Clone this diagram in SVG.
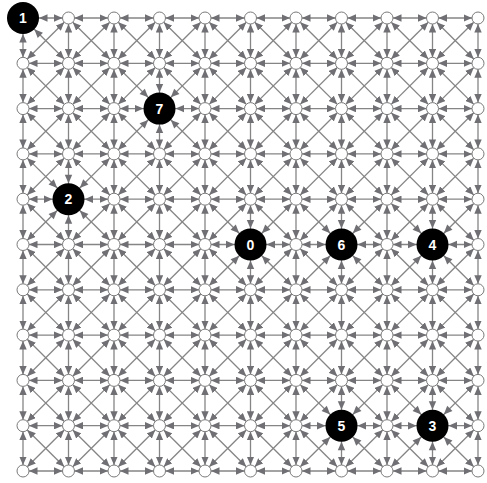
<svg xmlns="http://www.w3.org/2000/svg" width="487" height="483" viewBox="0 0 487 483">
<style>
.n circle{fill:#fff;stroke:#7a7a7a;stroke-width:1}
.b circle{fill:#000;stroke:none}
.b text{fill:#fff;font-family:"Liberation Sans",Arial,sans-serif;font-weight:bold;font-size:14px;text-anchor:middle}
.ah{fill:#6f6f74}
</style>
<defs>
<marker id="m" markerUnits="userSpaceOnUse" markerWidth="8.5" markerHeight="7.4" refX="8.5" refY="3.7" orient="auto-start-reverse" viewBox="0 0 8.5 7.4"><path d="M0,0L8.5,3.7L0,7.4Z" fill="#6f6f74"/></marker>
<g id="c" stroke="#858585" stroke-width="1.3" marker-start="url(#m)" marker-end="url(#m)">
<line x1="6" y1="0" x2="39.5" y2="0"/>
<line x1="0" y1="6" x2="0" y2="39.3"/>
<line x1="4.25" y1="4.23" x2="41.25" y2="41.07"/>
<line x1="41.25" y1="4.23" x2="4.25" y2="41.07"/>
</g>
<g id="h" stroke="#858585" stroke-width="1.3" marker-start="url(#m)" marker-end="url(#m)"><line x1="6" y1="0" x2="39.5" y2="0"/></g>
<g id="v" stroke="#858585" stroke-width="1.3" marker-start="url(#m)" marker-end="url(#m)"><line x1="0" y1="6" x2="0" y2="39.3"/></g>
<g id="r"><use href="#c"/><use href="#c" x="45.5"/><use href="#c" x="91"/><use href="#c" x="136.5"/><use href="#c" x="182"/><use href="#c" x="227.5"/><use href="#c" x="273"/><use href="#c" x="318.5"/><use href="#c" x="364"/><use href="#c" x="409.5"/></g>
<g id="hr"><use href="#h"/><use href="#h" x="45.5"/><use href="#h" x="91"/><use href="#h" x="136.5"/><use href="#h" x="182"/><use href="#h" x="227.5"/><use href="#h" x="273"/><use href="#h" x="318.5"/><use href="#h" x="364"/><use href="#h" x="409.5"/></g>
<g id="vc"><use href="#v"/><use href="#v" y="45.3"/><use href="#v" y="90.6"/><use href="#v" y="135.9"/><use href="#v" y="181.2"/><use href="#v" y="226.5"/><use href="#v" y="271.8"/><use href="#v" y="317.1"/><use href="#v" y="362.4"/><use href="#v" y="407.7"/></g>
<path id="ah" d="M16,0L24.5,-3.7L24.5,3.7Z"/>
<g id="a8"><use href="#ah"/><use href="#ah" transform="rotate(45)"/><use href="#ah" transform="rotate(90)"/><use href="#ah" transform="rotate(135)"/><use href="#ah" transform="rotate(180)"/><use href="#ah" transform="rotate(225)"/><use href="#ah" transform="rotate(270)"/><use href="#ah" transform="rotate(315)"/></g>
</defs>
<g id="connectors">
<use href="#r" x="23" y="18"/>
<use href="#r" x="23" y="63.3"/>
<use href="#r" x="23" y="108.6"/>
<use href="#r" x="23" y="153.9"/>
<use href="#r" x="23" y="199.2"/>
<use href="#r" x="23" y="244.5"/>
<use href="#r" x="23" y="289.8"/>
<use href="#r" x="23" y="335.1"/>
<use href="#r" x="23" y="380.4"/>
<use href="#r" x="23" y="425.7"/>
<use href="#hr" x="23" y="471"/>
<use href="#vc" x="478" y="18"/>
<g class="ah">
<use href="#ah" transform="translate(23,18)"/>
<use href="#ah" transform="translate(23,18) rotate(45)"/>
<use href="#ah" transform="translate(23,18) rotate(90)"/>
<use href="#a8" x="159.5" y="108.6"/>
<use href="#a8" x="68.5" y="199.2"/>
<use href="#a8" x="250.5" y="244.5"/>
<use href="#a8" x="341.5" y="244.5"/>
<use href="#a8" x="432.5" y="244.5"/>
<use href="#a8" x="341.5" y="425.7"/>
<use href="#a8" x="432.5" y="425.7"/>
</g>
</g>
<g id="nodes">
<g id="n0_1" class="n"><circle cx="68.5" cy="18" r="6"/></g>
<g id="n0_2" class="n"><circle cx="114" cy="18" r="6"/></g>
<g id="n0_3" class="n"><circle cx="159.5" cy="18" r="6"/></g>
<g id="n0_4" class="n"><circle cx="205" cy="18" r="6"/></g>
<g id="n0_5" class="n"><circle cx="250.5" cy="18" r="6"/></g>
<g id="n0_6" class="n"><circle cx="296" cy="18" r="6"/></g>
<g id="n0_7" class="n"><circle cx="341.5" cy="18" r="6"/></g>
<g id="n0_8" class="n"><circle cx="387" cy="18" r="6"/></g>
<g id="n0_9" class="n"><circle cx="432.5" cy="18" r="6"/></g>
<g id="n0_10" class="n"><circle cx="478" cy="18" r="6"/></g>
<g id="n1_0" class="n"><circle cx="23" cy="63.3" r="6"/></g>
<g id="n1_1" class="n"><circle cx="68.5" cy="63.3" r="6"/></g>
<g id="n1_2" class="n"><circle cx="114" cy="63.3" r="6"/></g>
<g id="n1_3" class="n"><circle cx="159.5" cy="63.3" r="6"/></g>
<g id="n1_4" class="n"><circle cx="205" cy="63.3" r="6"/></g>
<g id="n1_5" class="n"><circle cx="250.5" cy="63.3" r="6"/></g>
<g id="n1_6" class="n"><circle cx="296" cy="63.3" r="6"/></g>
<g id="n1_7" class="n"><circle cx="341.5" cy="63.3" r="6"/></g>
<g id="n1_8" class="n"><circle cx="387" cy="63.3" r="6"/></g>
<g id="n1_9" class="n"><circle cx="432.5" cy="63.3" r="6"/></g>
<g id="n1_10" class="n"><circle cx="478" cy="63.3" r="6"/></g>
<g id="n2_0" class="n"><circle cx="23" cy="108.6" r="6"/></g>
<g id="n2_1" class="n"><circle cx="68.5" cy="108.6" r="6"/></g>
<g id="n2_2" class="n"><circle cx="114" cy="108.6" r="6"/></g>
<g id="n2_4" class="n"><circle cx="205" cy="108.6" r="6"/></g>
<g id="n2_5" class="n"><circle cx="250.5" cy="108.6" r="6"/></g>
<g id="n2_6" class="n"><circle cx="296" cy="108.6" r="6"/></g>
<g id="n2_7" class="n"><circle cx="341.5" cy="108.6" r="6"/></g>
<g id="n2_8" class="n"><circle cx="387" cy="108.6" r="6"/></g>
<g id="n2_9" class="n"><circle cx="432.5" cy="108.6" r="6"/></g>
<g id="n2_10" class="n"><circle cx="478" cy="108.6" r="6"/></g>
<g id="n3_0" class="n"><circle cx="23" cy="153.9" r="6"/></g>
<g id="n3_1" class="n"><circle cx="68.5" cy="153.9" r="6"/></g>
<g id="n3_2" class="n"><circle cx="114" cy="153.9" r="6"/></g>
<g id="n3_3" class="n"><circle cx="159.5" cy="153.9" r="6"/></g>
<g id="n3_4" class="n"><circle cx="205" cy="153.9" r="6"/></g>
<g id="n3_5" class="n"><circle cx="250.5" cy="153.9" r="6"/></g>
<g id="n3_6" class="n"><circle cx="296" cy="153.9" r="6"/></g>
<g id="n3_7" class="n"><circle cx="341.5" cy="153.9" r="6"/></g>
<g id="n3_8" class="n"><circle cx="387" cy="153.9" r="6"/></g>
<g id="n3_9" class="n"><circle cx="432.5" cy="153.9" r="6"/></g>
<g id="n3_10" class="n"><circle cx="478" cy="153.9" r="6"/></g>
<g id="n4_0" class="n"><circle cx="23" cy="199.2" r="6"/></g>
<g id="n4_2" class="n"><circle cx="114" cy="199.2" r="6"/></g>
<g id="n4_3" class="n"><circle cx="159.5" cy="199.2" r="6"/></g>
<g id="n4_4" class="n"><circle cx="205" cy="199.2" r="6"/></g>
<g id="n4_5" class="n"><circle cx="250.5" cy="199.2" r="6"/></g>
<g id="n4_6" class="n"><circle cx="296" cy="199.2" r="6"/></g>
<g id="n4_7" class="n"><circle cx="341.5" cy="199.2" r="6"/></g>
<g id="n4_8" class="n"><circle cx="387" cy="199.2" r="6"/></g>
<g id="n4_9" class="n"><circle cx="432.5" cy="199.2" r="6"/></g>
<g id="n4_10" class="n"><circle cx="478" cy="199.2" r="6"/></g>
<g id="n5_0" class="n"><circle cx="23" cy="244.5" r="6"/></g>
<g id="n5_1" class="n"><circle cx="68.5" cy="244.5" r="6"/></g>
<g id="n5_2" class="n"><circle cx="114" cy="244.5" r="6"/></g>
<g id="n5_3" class="n"><circle cx="159.5" cy="244.5" r="6"/></g>
<g id="n5_4" class="n"><circle cx="205" cy="244.5" r="6"/></g>
<g id="n5_6" class="n"><circle cx="296" cy="244.5" r="6"/></g>
<g id="n5_8" class="n"><circle cx="387" cy="244.5" r="6"/></g>
<g id="n5_10" class="n"><circle cx="478" cy="244.5" r="6"/></g>
<g id="n6_0" class="n"><circle cx="23" cy="289.8" r="6"/></g>
<g id="n6_1" class="n"><circle cx="68.5" cy="289.8" r="6"/></g>
<g id="n6_2" class="n"><circle cx="114" cy="289.8" r="6"/></g>
<g id="n6_3" class="n"><circle cx="159.5" cy="289.8" r="6"/></g>
<g id="n6_4" class="n"><circle cx="205" cy="289.8" r="6"/></g>
<g id="n6_5" class="n"><circle cx="250.5" cy="289.8" r="6"/></g>
<g id="n6_6" class="n"><circle cx="296" cy="289.8" r="6"/></g>
<g id="n6_7" class="n"><circle cx="341.5" cy="289.8" r="6"/></g>
<g id="n6_8" class="n"><circle cx="387" cy="289.8" r="6"/></g>
<g id="n6_9" class="n"><circle cx="432.5" cy="289.8" r="6"/></g>
<g id="n6_10" class="n"><circle cx="478" cy="289.8" r="6"/></g>
<g id="n7_0" class="n"><circle cx="23" cy="335.1" r="6"/></g>
<g id="n7_1" class="n"><circle cx="68.5" cy="335.1" r="6"/></g>
<g id="n7_2" class="n"><circle cx="114" cy="335.1" r="6"/></g>
<g id="n7_3" class="n"><circle cx="159.5" cy="335.1" r="6"/></g>
<g id="n7_4" class="n"><circle cx="205" cy="335.1" r="6"/></g>
<g id="n7_5" class="n"><circle cx="250.5" cy="335.1" r="6"/></g>
<g id="n7_6" class="n"><circle cx="296" cy="335.1" r="6"/></g>
<g id="n7_7" class="n"><circle cx="341.5" cy="335.1" r="6"/></g>
<g id="n7_8" class="n"><circle cx="387" cy="335.1" r="6"/></g>
<g id="n7_9" class="n"><circle cx="432.5" cy="335.1" r="6"/></g>
<g id="n7_10" class="n"><circle cx="478" cy="335.1" r="6"/></g>
<g id="n8_0" class="n"><circle cx="23" cy="380.4" r="6"/></g>
<g id="n8_1" class="n"><circle cx="68.5" cy="380.4" r="6"/></g>
<g id="n8_2" class="n"><circle cx="114" cy="380.4" r="6"/></g>
<g id="n8_3" class="n"><circle cx="159.5" cy="380.4" r="6"/></g>
<g id="n8_4" class="n"><circle cx="205" cy="380.4" r="6"/></g>
<g id="n8_5" class="n"><circle cx="250.5" cy="380.4" r="6"/></g>
<g id="n8_6" class="n"><circle cx="296" cy="380.4" r="6"/></g>
<g id="n8_7" class="n"><circle cx="341.5" cy="380.4" r="6"/></g>
<g id="n8_8" class="n"><circle cx="387" cy="380.4" r="6"/></g>
<g id="n8_9" class="n"><circle cx="432.5" cy="380.4" r="6"/></g>
<g id="n8_10" class="n"><circle cx="478" cy="380.4" r="6"/></g>
<g id="n9_0" class="n"><circle cx="23" cy="425.7" r="6"/></g>
<g id="n9_1" class="n"><circle cx="68.5" cy="425.7" r="6"/></g>
<g id="n9_2" class="n"><circle cx="114" cy="425.7" r="6"/></g>
<g id="n9_3" class="n"><circle cx="159.5" cy="425.7" r="6"/></g>
<g id="n9_4" class="n"><circle cx="205" cy="425.7" r="6"/></g>
<g id="n9_5" class="n"><circle cx="250.5" cy="425.7" r="6"/></g>
<g id="n9_6" class="n"><circle cx="296" cy="425.7" r="6"/></g>
<g id="n9_8" class="n"><circle cx="387" cy="425.7" r="6"/></g>
<g id="n9_10" class="n"><circle cx="478" cy="425.7" r="6"/></g>
<g id="n10_0" class="n"><circle cx="23" cy="471" r="6"/></g>
<g id="n10_1" class="n"><circle cx="68.5" cy="471" r="6"/></g>
<g id="n10_2" class="n"><circle cx="114" cy="471" r="6"/></g>
<g id="n10_3" class="n"><circle cx="159.5" cy="471" r="6"/></g>
<g id="n10_4" class="n"><circle cx="205" cy="471" r="6"/></g>
<g id="n10_5" class="n"><circle cx="250.5" cy="471" r="6"/></g>
<g id="n10_6" class="n"><circle cx="296" cy="471" r="6"/></g>
<g id="n10_7" class="n"><circle cx="341.5" cy="471" r="6"/></g>
<g id="n10_8" class="n"><circle cx="387" cy="471" r="6"/></g>
<g id="n10_9" class="n"><circle cx="432.5" cy="471" r="6"/></g>
<g id="n10_10" class="n"><circle cx="478" cy="471" r="6"/></g>
<g id="node1" class="b"><circle cx="23" cy="18" r="16"/><text x="23" y="23">1</text></g>
<g id="node7" class="b"><circle cx="159.5" cy="108.6" r="16"/><text x="159.5" y="113.6">7</text></g>
<g id="node2" class="b"><circle cx="68.5" cy="199.2" r="16"/><text x="68.5" y="204.2">2</text></g>
<g id="node0" class="b"><circle cx="250.5" cy="244.5" r="16"/><text x="250.5" y="249.5">0</text></g>
<g id="node6" class="b"><circle cx="341.5" cy="244.5" r="16"/><text x="341.5" y="249.5">6</text></g>
<g id="node4" class="b"><circle cx="432.5" cy="244.5" r="16"/><text x="432.5" y="249.5">4</text></g>
<g id="node5" class="b"><circle cx="341.5" cy="425.7" r="16"/><text x="341.5" y="430.7">5</text></g>
<g id="node3" class="b"><circle cx="432.5" cy="425.7" r="16"/><text x="432.5" y="430.7">3</text></g>
</g>
</svg>
